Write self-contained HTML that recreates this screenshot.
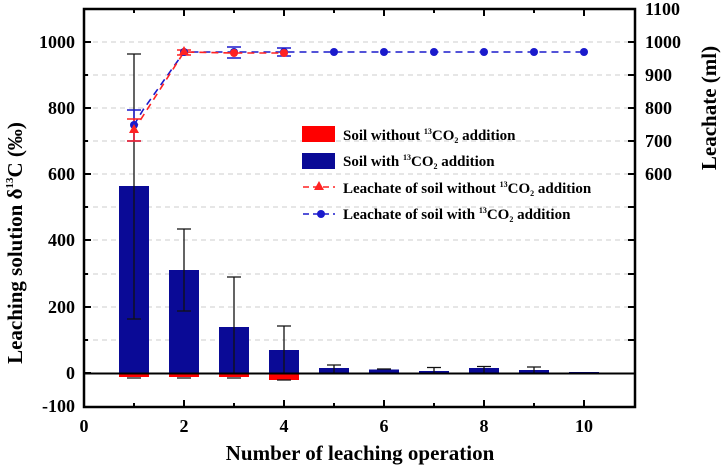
<!DOCTYPE html>
<html><head><meta charset="utf-8"><style>
html,body{margin:0;padding:0;background:#fff;}
svg{display:block;font-family:"Liberation Serif",serif;font-weight:bold;}
</style></head><body>
<svg width="722" height="465" viewBox="0 0 722 465" xmlns="http://www.w3.org/2000/svg">
<g stroke="#ccc" stroke-width="1" stroke-dasharray="5,4">
<line x1="84" x2="635" y1="42" y2="42"/><line x1="84" x2="635" y1="75" y2="75"/>
<line x1="84" x2="635" y1="108" y2="108"/><line x1="84" x2="635" y1="141" y2="141"/>
<line x1="84" x2="635" y1="174" y2="174"/><line x1="84" x2="635" y1="207" y2="207"/>
<line x1="84" x2="635" y1="240" y2="240"/><line x1="84" x2="635" y1="274" y2="274"/>
<line x1="84" x2="635" y1="307" y2="307"/><line x1="84" x2="635" y1="340" y2="340"/>
</g>
<g fill="#f00">
<rect x="119" y="373" width="30" height="4"/><rect x="169" y="373" width="30" height="4"/>
<rect x="219" y="373" width="30" height="4"/><rect x="269" y="373" width="30" height="7"/>
</g>
<g fill="#0a0a96">
<rect x="119" y="186" width="30" height="187"/>
<rect x="169" y="270" width="30" height="103"/>
<rect x="219" y="327" width="30" height="46"/>
<rect x="269" y="350" width="30" height="23"/>
<rect x="319" y="368" width="30" height="5"/>
<rect x="369" y="369.5" width="30" height="3.5"/>
<rect x="419" y="371" width="30" height="2"/>
<rect x="469" y="368" width="30" height="5"/>
<rect x="519" y="370" width="30" height="3"/>
<rect x="569" y="372" width="30" height="1"/>
</g>
<g stroke="#111" stroke-width="1.3" fill="none">
<path d="M134 319V54M127 54h14M127 319h14M127 378h14"/>
<path d="M184 311V229M177 229h14M177 311h14M177 378h14"/>
<path d="M234 373V277M227 277h14M227 378h14"/>
<path d="M284 373V326M277 326h14M277 380h14"/>
<path d="M334 373V365M327 365h14"/>
<path d="M384 369V369M377 369h14"/>
<path d="M434 373V367.5M427 367.5h14"/>
<path d="M484 373V366.5M477 366.5h14"/>
<path d="M534 373V367M527 367h14"/>
</g>
<polyline points="134,125 143,110 184,52 234,52 284,52 334,52 384,52 434,52 484,52 534,52 584,52" fill="none" stroke="#1a1acc" stroke-width="1.6" stroke-dasharray="7,5"/>
<polyline points="134,130 184,52 234,53 284,53" fill="none" stroke="#f22" stroke-width="1.6" stroke-dasharray="7,5"/>
<g stroke="#1a1acc" stroke-width="1.5"><path d="M127 110h14M127 141h14M134 110v31"/><path d="M227 47h14M227 58h14M277 48h14M277 56h14"/></g>
<g stroke="#f22" stroke-width="1.5"><path d="M127 119h14M127 141h14M134 119v22"/><path d="M177 50h14M177 55h14"/></g>
<g fill="#1a1acc"><circle cx="134" cy="125" r="4"/><circle cx="184" cy="52" r="4"/><circle cx="234" cy="52" r="4"/><circle cx="284" cy="52" r="4"/><circle cx="334" cy="52" r="4"/><circle cx="384" cy="52" r="4"/><circle cx="434" cy="52" r="4"/><circle cx="484" cy="52" r="4"/><circle cx="534" cy="52" r="4"/><circle cx="584" cy="52" r="4"/></g>
<g fill="#f22"><path d="M134 124l5 9h-10z"/><path d="M184 46l5 9h-10z"/><circle cx="234" cy="53" r="4"/><circle cx="284" cy="53" r="4"/></g>
<line x1="84" x2="635" y1="373.5" y2="373.5" stroke="#000" stroke-width="2"/>
<rect x="84" y="9" width="551" height="398" fill="none" stroke="#000" stroke-width="2.5"/>
<g stroke="#000" stroke-width="2">
<path d="M184 407v-7M284 407v-7M384 407v-7M484 407v-7M584 407v-7M134 407v-4M234 407v-4M334 407v-4M434 407v-4M534 407v-4"/>
<path d="M184 9v7M284 9v7M384 9v7M484 9v7M584 9v7M134 9v4M234 9v4M334 9v4M434 9v4M534 9v4"/>
<path d="M84 42h7M84 108h7M84 174h7M84 240h7M84 307h7M84 373h7M84 75h4M84 141h4M84 207h4M84 274h4M84 340h4"/>
<path d="M635 42h-7M635 75h-7M635 108h-7M635 141h-7M635 174h-7M635 207h-7M635 240h-7M635 274h-7M635 307h-7M635 340h-7"/>
</g>
<g font-size="18" text-anchor="end">
<text x="75" y="48">1000</text><text x="75" y="114">800</text><text x="75" y="180">600</text>
<text x="75" y="246">400</text><text x="75" y="313">200</text><text x="75" y="379">0</text><text x="75" y="412">-100</text>
</g>
<g font-size="18">
<text x="645" y="15">1100</text><text x="645" y="48">1000</text><text x="645" y="81">900</text>
<text x="645" y="114">800</text><text x="645" y="147">700</text><text x="645" y="180">600</text>
</g>
<g font-size="18" text-anchor="middle">
<text x="84" y="432">0</text><text x="184" y="432">2</text><text x="284" y="432">4</text>
<text x="384" y="432">6</text><text x="484" y="432">8</text><text x="584" y="432">10</text>
</g>
<text x="360" y="460" font-size="21" text-anchor="middle">Number of leaching operation</text>
<text transform="translate(22,243) rotate(-90)" font-size="21" text-anchor="middle">Leaching solution δ<tspan font-size="11" dy="-9">13</tspan><tspan dy="9">C (‰)</tspan></text>
<text transform="translate(716,108) rotate(-90)" font-size="21" text-anchor="middle">Leachate (ml)</text>
<rect x="302" y="126" width="33" height="16" fill="#f00"/>
<rect x="302" y="153" width="33" height="16" fill="#0a0a96"/>
<line x1="303" x2="335" y1="187" y2="187" stroke="#f22" stroke-width="1.6" stroke-dasharray="6,4"/>
<path d="M319 181l5 9h-10z" fill="#f22"/>
<line x1="303" x2="335" y1="214" y2="214" stroke="#1a1acc" stroke-width="1.6" stroke-dasharray="6,4"/>
<circle cx="321" cy="214" r="4" fill="#1a1acc"/>
<g font-size="15">
<text x="343" y="140">Soil without <tspan font-size="8" dy="-6">13</tspan><tspan dy="6">CO</tspan><tspan font-size="8" dy="3">2</tspan><tspan dy="-3"> addition</tspan></text>
<text x="343" y="166">Soil with <tspan font-size="8" dy="-6">13</tspan><tspan dy="6">CO</tspan><tspan font-size="8" dy="3">2</tspan><tspan dy="-3"> addition</tspan></text>
<text x="343" y="193">Leachate of soil without <tspan font-size="8" dy="-6">13</tspan><tspan dy="6">CO</tspan><tspan font-size="8" dy="3">2</tspan><tspan dy="-3"> addition</tspan></text>
<text x="343" y="219">Leachate of soil with <tspan font-size="8" dy="-6">13</tspan><tspan dy="6">CO</tspan><tspan font-size="8" dy="3">2</tspan><tspan dy="-3"> addition</tspan></text>
</g>
</svg>
</body></html>
